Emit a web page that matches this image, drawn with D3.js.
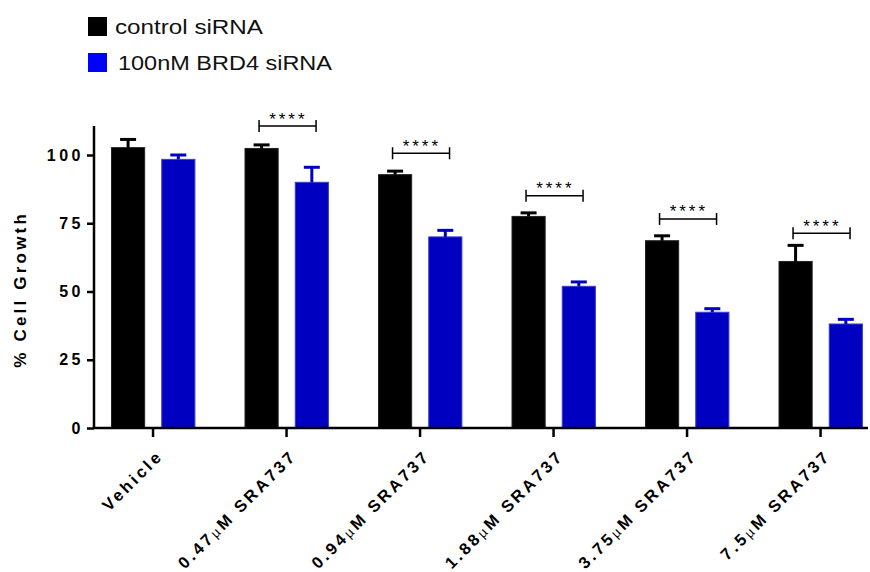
<!DOCTYPE html>
<html>
<head>
<meta charset="utf-8">
<script src="https://cdn.jsdelivr.net/npm/d3@7"></script>
<style>
  body { margin: 0; background: #fff; }
  svg { display: block; font-family: "Liberation Sans", Arial, sans-serif; }
</style>
</head>
<body>
<svg id="chart" width="870" height="572"></svg>
<script>
// data
const categories = ['Vehicle', '0.47µM SRA737', '0.94µM SRA737', '1.88µM SRA737', '3.75µM SRA737', '7.5µM SRA737'];
const series = ['control siRNA', '100nM BRD4 siRNA'];
const controlMeans = [102.7, 102.4, 92.8, 77.5, 68.6, 61.0];
const controlErr = [3.0, 1.3, 1.3, 1.3, 1.8, 5.9];
const brd4Means = [98.4, 90.0, 70.0, 51.9, 42.4, 38.1];
const brd4Err = [1.6, 5.5, 2.4, 1.6, 1.3, 1.7];
const sigLabels = ['', '****', '****', '****', '****', '****'];
const sigLevels = [null, 110.6, 100.6, 85.1, 76.6, 71.3];
const yTicks = [0, 25, 50, 75, 100];

const colors = { 'control siRNA': '#000000', '100nM BRD4 siRNA': '#0000c0' };
const legendColors = { 'control siRNA': '#000000', '100nM BRD4 siRNA': '#0000ff' };

const svg = d3.select('#chart');
const axisX = 94, axisY = 428, axisRight = 868;

const rows = categories.map((c, i) => ({
  cat: c,
  values: [
    { key: series[0], mean: controlMeans[i], err: controlErr[i] },
    { key: series[1], mean: brd4Means[i], err: brd4Err[i] }
  ],
  sig: sigLabels[i],
  sigLevel: sigLevels[i]
}));

const x0 = d3.scaleBand().domain(categories).range([86.3, 887.3]).padding(0);
const x1 = d3.scaleBand().domain(series).range([25.2, 108.6]).paddingInner(0.34).paddingOuter(0);
const y = d3.scaleLinear().domain([0, 110]).range([axisY, axisY - 110 * 2.73]);

// bars
const groups = svg.append('g').selectAll('g')
  .data(rows)
  .enter().append('g')
  .attr('transform', d => `translate(${x0(d.cat)},0)`);

groups.selectAll('rect')
  .data(d => d.values)
  .enter().append('rect')
  .attr('x', d => x1(d.key))
  .attr('y', d => y(d.mean))
  .attr('width', x1.bandwidth())
  .attr('height', d => y(0) - y(d.mean))
  .attr('fill', d => colors[d.key])
  .attr('stroke', d => d.key === series[0] ? '#222' : '#3b3bd0')
  .attr('stroke-width', 1);

// error bars (upper only)
const eb = groups.selectAll('g.err')
  .data(d => d.values)
  .enter().append('g').attr('class', 'err');
eb.append('line')
  .attr('x1', d => x1(d.key) + x1.bandwidth() / 2)
  .attr('x2', d => x1(d.key) + x1.bandwidth() / 2)
  .attr('y1', d => y(d.mean))
  .attr('y2', d => y(d.mean + d.err))
  .attr('stroke', d => colors[d.key])
  .attr('stroke-width', 3);
eb.append('line')
  .attr('x1', d => x1(d.key) + x1.bandwidth() / 2 - 8)
  .attr('x2', d => x1(d.key) + x1.bandwidth() / 2 + 8)
  .attr('y1', d => y(d.mean + d.err))
  .attr('y2', d => y(d.mean + d.err))
  .attr('stroke', d => colors[d.key])
  .attr('stroke-width', 3);

// significance brackets
const sig = svg.append('g').selectAll('g')
  .data(rows.filter(d => d.sig))
  .enter().append('g')
  .attr('transform', d => `translate(${x0(d.cat) + x0.bandwidth() / 2},${y(d.sigLevel)})`);
sig.append('path')
  .attr('d', 'M-27.5,-6V6M-27.5,0H29.5M29.5,-6V6')
  .attr('fill', 'none')
  .attr('stroke', '#000')
  .attr('stroke-width', 1.5);
sig.append('text')
  .attr('x', 1.8)
  .attr('y', -1.5)
  .attr('text-anchor', 'middle')
  .style('font-size', '17px')
  .style('letter-spacing', '3px')
  .text(d => d.sig);

// y axis
const yAxis = svg.append('g')
  .attr('transform', `translate(${axisX},0)`)
  .call(d3.axisLeft(y).tickValues(yTicks).tickSize(7).tickSizeOuter(0).tickPadding(3));
yAxis.select('.domain').attr('stroke-width', 2.5).attr('d', `M0,${axisY}V126`);
yAxis.selectAll('.tick line').attr('stroke-width', 2.5);
yAxis.selectAll('.tick text')
  .style('font-size', '16px')
  .style('font-weight', 'bold')
  .style('letter-spacing', '3.5px')
  .attr('fill', '#000');

// x axis
const xAxis = svg.append('g').attr('transform', `translate(0,${axisY})`);
xAxis.append('line')
  .attr('x1', axisX - 1.25).attr('x2', axisRight)
  .attr('stroke', '#000').attr('stroke-width', 2.5);
const xt = xAxis.selectAll('g.tick')
  .data(categories)
  .enter().append('g').attr('class', 'tick')
  .attr('transform', d => `translate(${x0(d) + x0.bandwidth() / 2},0)`);
xt.append('line').attr('y2', 9).attr('stroke', '#000').attr('stroke-width', 2.5);
const xl = xt.append('text')
  .attr('transform', 'translate(11,29) rotate(-45)')
  .attr('text-anchor', 'end')
  .style('font-size', '16.5px')
  .style('font-weight', 'bold')
  .style('letter-spacing', '3px');
xl.each(function(d) {
  const parts = d.split('µ');
  const t = d3.select(this);
  t.append('tspan').text(parts[0]);
  if (parts.length > 1) {
    t.append('tspan').style('font-weight', 'normal').style('font-size', '13.5px').text('µ');
    t.append('tspan').text(parts[1]);
  }
});

// y title
svg.append('text')
  .attr('transform', 'translate(26,291) rotate(-90)')
  .attr('text-anchor', 'middle')
  .attr('dx', 1.6)
  .style('font-size', '17px')
  .style('font-weight', 'bold')
  .style('letter-spacing', '3.2px')
  .text('% Cell Growth');

// legend
const legendTextLen = [148, 214];
const leg = svg.append('g').selectAll('g')
  .data(series)
  .enter().append('g')
  .attr('transform', (d, i) => `translate(88,${17 + i * 36})`);
leg.append('rect')
  .attr('width', 19).attr('height', 19)
  .attr('fill', d => legendColors[d]);
leg.append('text')
  .attr('x', (d, i) => 27 + i * 3)
  .attr('y', 17)
  .attr('textLength', (d, i) => legendTextLen[i])
  .attr('lengthAdjust', 'spacingAndGlyphs')
  .style('font-size', '20px')
  .attr('fill', '#111')
  .text(d => d);
</script>
</body>
</html>
